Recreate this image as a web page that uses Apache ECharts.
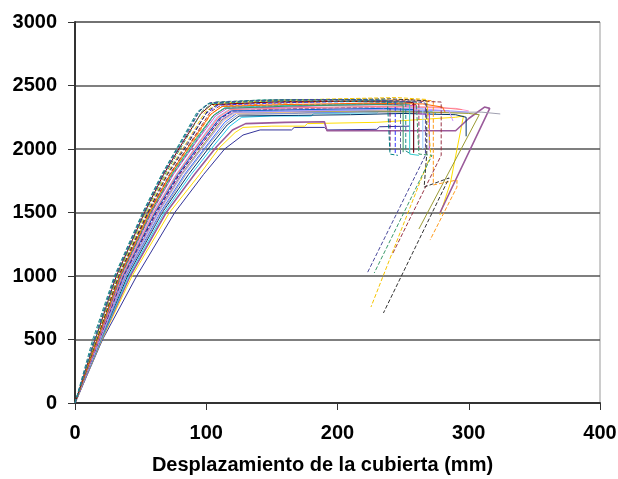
<!DOCTYPE html>
<html>
<head>
<meta charset="utf-8">
<script src="https://cdn.jsdelivr.net/npm/echarts@6/dist/echarts.min.js"></script>
<style>
  html, body { margin: 0; padding: 0; background: #fff; }
  #main { width: 618px; height: 479px; }
</style>
</head>
<body>
<div id="main"></div>
<script>
// ejes
const xTicks = [0, 100, 200, 300, 400];
const yTicks = [0, 500, 1000, 1500, 2000, 2500, 3000];

// curvas pushover (desplazamiento mm, cortante)
const c01 = [[0,0],[13.5,500],[30,1000],[51.5,1500],[66,1800],[80,2050],[93,2290],[101,2355],[130,2370],[170,2380],[210,2375],[245,2365],[252,2360],[252,1985],[256,1960]];
const c02 = [[0,0],[15,500],[31,1000],[52.5,1500],[67,1800],[81.5,2050],[95,2300],[103,2365],[135,2380],[180,2390],[225,2385],[262,2370],[267,2360],[267,1950],[223,1030]];
const c03 = [[0,0],[15.5,500],[32,1000],[53.5,1500],[68.5,1800],[83,2050],[97,2300],[106,2370],[140,2385],[190,2390],[235,2380],[260,2370],[262,1960],[272,1950],[228,1024]];
const c04 = [[0,0],[16,500],[32.5,1000],[54.5,1500],[69.5,1800],[85,2050],[99,2290],[108,2360],[150,2380],[200,2395],[245,2405],[268,2390],[271,1950],[262,1717],[225.5,756]];
const c05 = [[0,0],[16.5,500],[33,1000],[55.5,1500],[70.5,1800],[86.5,2050],[101,2300],[110,2360],[150,2385],[200,2390],[240,2395],[268,2380],[268,1960],[266,1700],[285,1772],[235,709]];
const c06 = [[0,0],[16.5,500],[33.5,1000],[56,1500],[72,1800],[88,2050],[103,2290],[112,2350],[150,2370],[200,2385],[250,2380],[279,2370],[279,1950],[241.5,1165]];
const c07 = [[0,0],[17,500],[34,1000],[57,1500],[73,1800],[89.5,2050],[104,2280],[113,2340],[160,2360],[210,2380],[255,2390],[273,2380],[273,1717],[291,1756],[291,1700],[270.5,1283]];
const c08 = [[0,0],[17,500],[34.5,1000],[57.5,1500],[74,1800],[91,2050],[106,2270],[115,2330],[150,2340],[200,2350],[240,2360],[255,2350],[255,1960],[262,1950]];
const c09 = [[0,0],[17.5,500],[35,1000],[58.5,1500],[75,1800],[92,2050],[107,2260],[116,2320],[160,2330],[200,2345],[245,2350],[260,2340],[260,2280],[270,2270],[270,1990]];
const c10 = [[0,0],[17.5,500],[35.5,1000],[59.5,1500],[77,1800],[94,2050],[108,2250],[117,2310],[150,2320],[200,2330],[250,2335],[265,2320],[265,2000]];
const c11 = [[0,0],[18,500],[36,1000],[60.5,1500],[78,1800],[95,2050],[109,2240],[118,2300],[160,2310],[210,2320],[250,2330],[290,2320],[300,2300]];
const c12 = [[0,0],[18,500],[36.5,1000],[61.5,1500],[79,1800],[96,2050],[110,2240],[119,2300],[160,2310],[200,2320],[240,2330],[248,2320],[248,1950]];
const c13 = [[0,0],[18.5,500],[37,1000],[62.5,1500],[80,1800],[97,2050],[111,2230],[120,2290],[170,2300],[220,2310],[260,2320],[285,2300],[288,2220]];
const c14 = [[0,0],[18.5,500],[37.5,1000],[63,1500],[81,1800],[99,2050],[112,2230],[121,2290],[170,2295],[220,2300],[270,2290],[300,2280],[308,2270],[262,1370]];
const c15 = [[0,0],[19,500],[38,1000],[64,1500],[82,1800],[100,2050],[113,2220],[122,2280],[170,2290],[220,2300],[260,2310],[280,2300]];
const c16 = [[0,0],[19,500],[38.5,1000],[65,1500],[83.5,1800],[102,2050],[114,2210],[123,2280],[165,2285],[215,2295],[255,2300],[270,2290],[270,2000]];
const c17 = [[0,0],[19.5,500],[39,1000],[66,1500],[84.5,1800],[103,2050],[115,2200],[124,2270],[170,2280],[220,2290],[280,2290],[310,2290],[324,2276]];
const c18 = [[0,0],[19.5,500],[40,1000],[66.5,1500],[86.5,1800],[105,2050],[116,2190],[125,2260],[170,2265],[210,2270],[250,2280],[290,2270],[298,2250],[298,2100]];
const c19 = [[0,0],[20,500],[41,1000],[68,1500],[88.5,1800],[106,2030],[118,2180],[127,2250],[150,2260],[180,2260],[182,2280],[230,2285],[232,2300],[270,2300],[275,2280]];
const c20 = [[0,0],[20,500],[42,1000],[69.5,1500],[91,1800],[108,2020],[120,2150],[130,2200],[160,2210],[190,2215],[192,2144],[290,2144],[300,2240],[312,2330],[316,2320],[278,1496]];
const c21 = [[0,0],[20.5,500],[43.5,1000],[72,1500],[95,1800],[110,2010],[122,2130],[128,2170],[150,2180],[175,2180],[177,2200],[230,2210],[260,2230],[290,2250],[296,2260],[286,1732],[278,1480]];
const c22 = [[0,0],[21,500],[47,1000],[76,1500],[98,1800],[114,2000],[128,2110],[141,2150],[165,2150],[167,2170],[190,2170],[192,2150],[230,2155],[232,2175],[255,2180]];
const c23 = [[0,0],[14.5,500],[30.5,1000],[52,1500],[66.5,1800],[80.5,2050],[94,2290],[102,2360],[140,2385],[200,2390],[238,2385],[240,1960],[246,1950]];
const c24 = [[0,0],[15.5,500],[31.5,1000],[53,1500],[67.5,1800],[82,2050],[96,2280],[104,2350],[150,2370],[200,2375],[250,2370],[258,2365],[258,1970]];
const c25 = [[0,0],[16,500],[33,1000],[55,1500],[70,1800],[85.5,2050],[100,2280],[109,2345],[160,2365],[220,2375],[244,2370],[244,1955]];
const c26 = [[0,0],[17,500],[34,1000],[56.5,1500],[72.5,1800],[88.5,2050],[103,2270],[112,2335],[160,2350],[220,2360],[265,2355],[280,2330],[282,2290]];
const c27 = [[0,0],[17,500],[34.5,1000],[57.5,1500],[73.5,1800],[90,2050],[105,2260],[114,2320],[170,2340],[230,2350],[250,2345],[250,1975]];
const c28 = [[0,0],[17.5,500],[35,1000],[58,1500],[74.5,1800],[91.5,2050],[106,2270],[115,2330],[165,2345],[220,2355],[262,2350],[262,2000]];
const c29 = [[0,0],[18,500],[36,1000],[60,1500],[77.5,1800],[94.5,2050],[109,2250],[118,2310],[170,2325],[230,2335],[275,2330],[295,2310]];
const c30 = [[0,0],[18,500],[36.5,1000],[61,1500],[78.5,1800],[96,2050],[110,2240],[119,2300],[175,2310],[235,2320],[258,2310],[258,1980]];
const c31 = [[0,0],[18.5,500],[37,1000],[62,1500],[79.5,1800],[97.5,2050],[111,2240],[120,2300],[170,2320],[230,2330],[240,2325],[240,1990]];
const c32 = [[0,0],[19,500],[38,1000],[63.5,1500],[81.5,1800],[100,2050],[113,2230],[122,2290],[180,2300],[240,2310],[286,2300],[300,2290]];

const curves = [c22, c21, c20, c19, c18, c17, c16, c15, c14, c13, c32, c12, c31, c11, c30, c10, c29, c09, c28, c08, c27, c07, c26, c06, c25, c05, c24, c04, c03, c23, c02, c01];
const colors = ['#333399', '#ffdd00', '#9a5a9a', '#22ccee', '#003366', '#a0a0b0', '#3366ff', '#ffcc99', '#9a9a33', '#cc99ff', '#9999ff', '#666699', '#660066', '#ff99cc', '#0066cc', '#99ccff', '#ff8080', '#cc55cc', '#993366', '#33cccc', '#339966', '#ff9a1a', '#ff6600', '#993344', '#3333ff', '#333333', '#800000', '#f5c400', '#3a9a6a', '#008080', '#4a4a9c', '#1f8a8a'];
const dashed = [false, false, false, false, false, false, false, false, false, false, false, true, true, false, false, false, false, false, true, false, false, true, false, true, true, true, false, true, true, true, true, true];

const myChart = echarts.init(document.getElementById('main'));

const labelFont = { fontFamily: 'Liberation Sans, Arial, sans-serif', fontWeight: 'bold', fontSize: 20, color: '#000' };

const option = {
    animation: false,
    backgroundColor: '#fff',
    grid: {
        left: 75,
        right: 18,
        top: 22,
        bottom: 76,
        containLabel: false,
        outerBoundsMode: 'none',
        show: true,
        borderColor: '#999',
        borderWidth: 1
    },
    xAxis: {
        type: 'value',
        min: xTicks[0],
        max: xTicks[xTicks.length - 1],
        interval: 100,
        name: 'Desplazamiento de la cubierta (mm)',
        nameLocation: 'middle',
        nameGap: 52,
        nameTextStyle: Object.assign({ padding: [0, 30, 0, 0] }, labelFont),
        axisLine: { show: true, lineStyle: { color: '#333', width: 2 } },
        axisTick: { show: true, inside: false, length: 7, lineStyle: { color: '#333' } },
        axisLabel: Object.assign({ margin: 20, formatter: v => String(v) }, labelFont),
        splitLine: { show: false }
    },
    yAxis: {
        type: 'value',
        min: yTicks[0],
        max: yTicks[yTicks.length - 1],
        interval: 500,
        axisLine: { show: true, lineStyle: { color: '#333', width: 2 } },
        axisTick: { show: true, inside: false, length: 7, lineStyle: { color: '#333' } },
        axisLabel: Object.assign({ margin: 18, formatter: v => String(v) }, labelFont),
        splitLine: { show: true, lineStyle: { color: '#555', width: 1.5 } }
    },
    series: curves.map((d, i) => ({
        type: 'line',
        data: d,
        showSymbol: false,
        silent: true,
        lineStyle: {
            color: colors[i],
            width: colors[i] === '#9a5a9a' ? 1.6 : 1,
            type: dashed[i] ? [4, 2] : 'solid'
        }
    }))
};

myChart.setOption(option);
</script>
</body>
</html>
